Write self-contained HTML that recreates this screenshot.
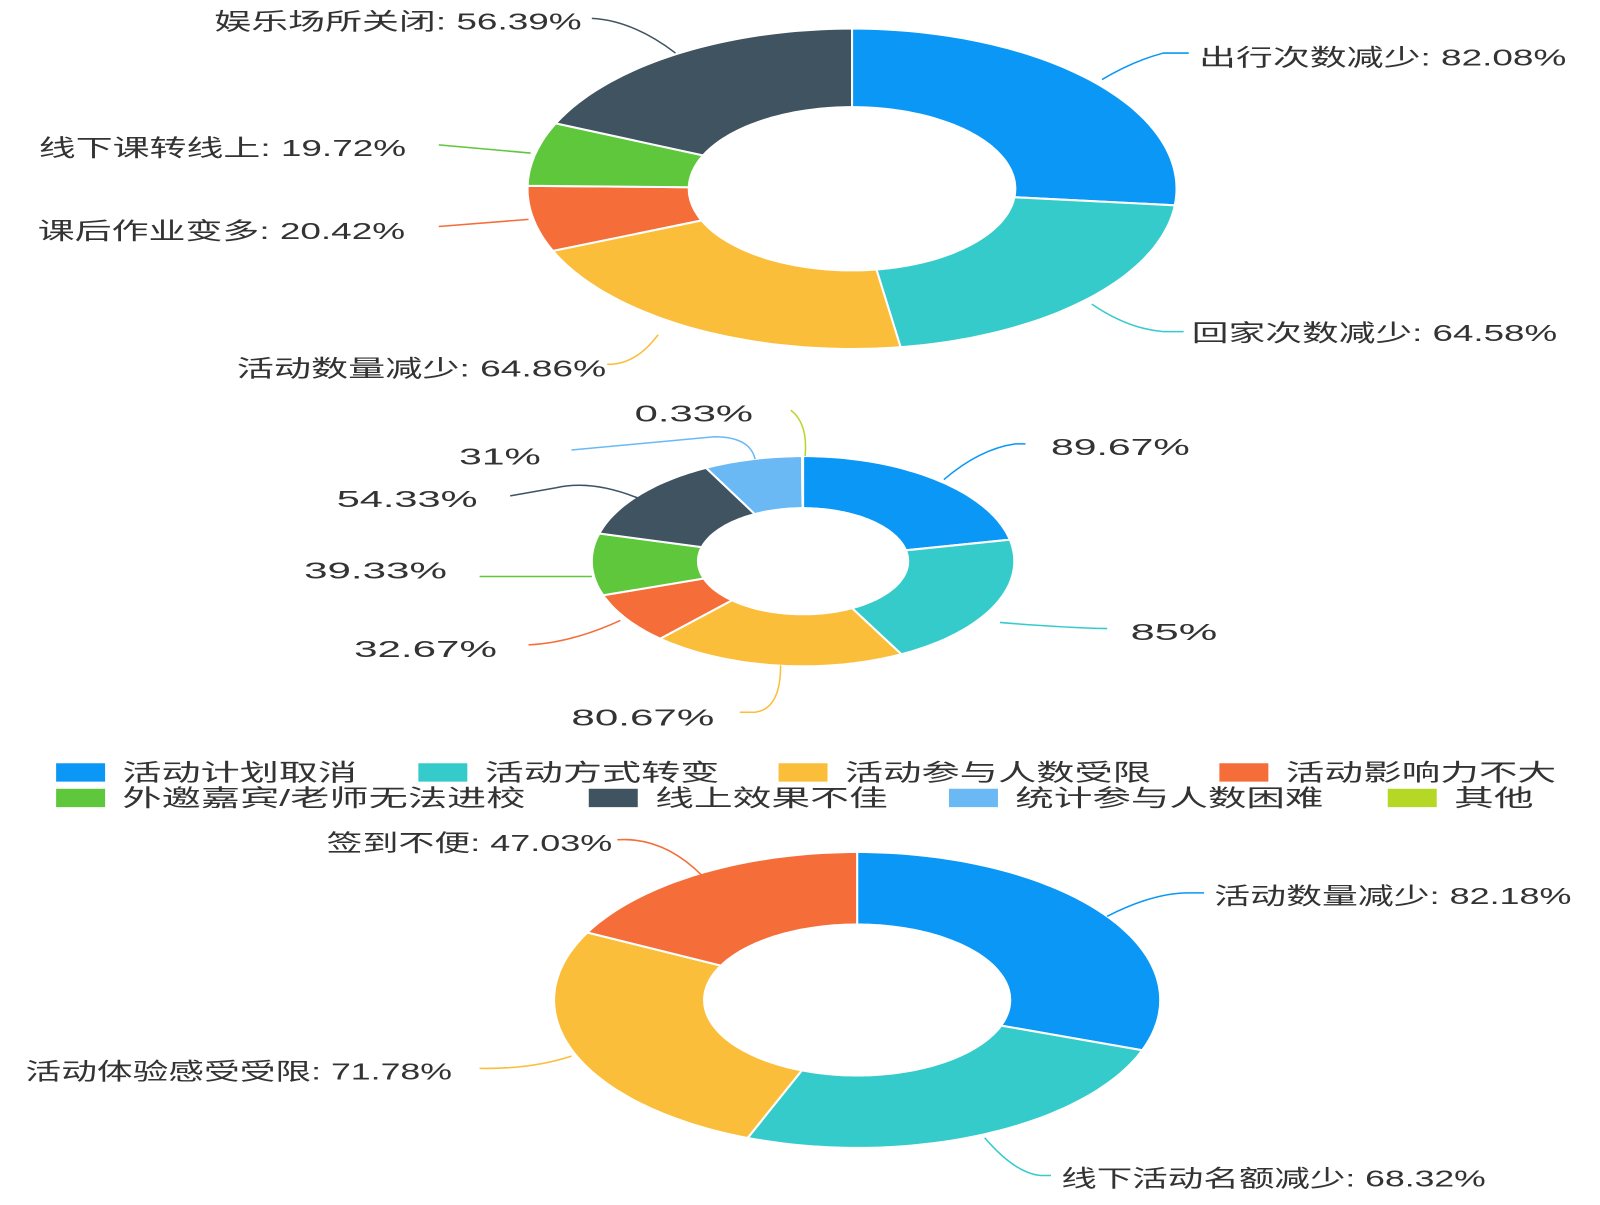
<!DOCTYPE html>
<html><head><meta charset="utf-8"><style>
html,body{margin:0;padding:0;background:#fff;}
svg text{font-family:"Liberation Sans","Noto Sans CJK SC",sans-serif;fill:#333;font-size:23px;}
</style></head><body>
<svg id="s" width="1600" height="1200" viewBox="0 0 1600 1200" xmlns="http://www.w3.org/2000/svg">
<g transform="scale(1.0204)">
<g id="charts"></g>
<g fill="none" stroke-width="1.5">
<path d="M1080,78 Q1110,60 1140,52 L1165,52" stroke="#0a97f5"/>
<path d="M1070,298 Q1105,322 1140,325 L1160,325" stroke="#36cbcb"/>
<path d="M645,328 Q625,355 600,357 L595,357" stroke="#fbbe3a"/>
<path d="M518,215 L430,222" stroke="#f56e3a"/>
<path d="M520,150 L430,142" stroke="#5ec73c"/>
<path d="M662,52 Q620,20 580,18" stroke="#3f5360"/>
<path d="M925,470 Q960,440 995,435 L1005,435" stroke="#0a97f5"/>
<path d="M980,610 Q1040,615 1085,616" stroke="#36cbcb"/>
<path d="M765,652 Q765,695 740,698 L725,698" stroke="#fbbe3a"/>
<path d="M608,608 Q560,630 518,632" stroke="#f56e3a"/>
<path d="M580,565 L470,565" stroke="#5ec73c"/>
<path d="M625,488 Q580,470 545,478 L500,486" stroke="#3f5360"/>
<path d="M740,450 Q735,428 700,428 L560,441" stroke="#6ab9f5"/>
<path d="M789,447 Q792,415 775,402" stroke="#b5d827"/>
<path d="M1085,898 Q1130,875 1165,875 L1180,875" stroke="#0a97f5"/>
<path d="M965,1115 Q995,1150 1020,1152 L1030,1152" stroke="#36cbcb"/>
<path d="M560,1035 Q520,1048 470,1047" stroke="#fbbe3a"/>
<path d="M688,858 Q650,820 605,823" stroke="#f56e3a"/>
</g>
<text x="1175" y="64" textLength="360" lengthAdjust="spacingAndGlyphs">出行次数减少: 82.08%</text>
<text x="1168" y="334" textLength="358" lengthAdjust="spacingAndGlyphs">回家次数减少: 64.58%</text>
<text x="232" y="369" textLength="362" lengthAdjust="spacingAndGlyphs">活动数量减少: 64.86%</text>
<text x="37" y="234" textLength="360" lengthAdjust="spacingAndGlyphs">课后作业变多: 20.42%</text>
<text x="38" y="153" textLength="360" lengthAdjust="spacingAndGlyphs">线下课转线上: 19.72%</text>
<text x="210" y="29" textLength="360" lengthAdjust="spacingAndGlyphs">娱乐场所关闭: 56.39%</text>
<text x="1030" y="446" textLength="136" lengthAdjust="spacingAndGlyphs">89.67%</text>
<text x="1108" y="627" textLength="85" lengthAdjust="spacingAndGlyphs">85%</text>
<text x="560" y="711" textLength="140" lengthAdjust="spacingAndGlyphs">80.67%</text>
<text x="347" y="644" textLength="140" lengthAdjust="spacingAndGlyphs">32.67%</text>
<text x="298" y="567" textLength="140" lengthAdjust="spacingAndGlyphs">39.33%</text>
<text x="330" y="497" textLength="138" lengthAdjust="spacingAndGlyphs">54.33%</text>
<text x="450" y="455" textLength="80" lengthAdjust="spacingAndGlyphs">31%</text>
<text x="622" y="413" textLength="116" lengthAdjust="spacingAndGlyphs">0.33%</text>
<g id="legend"></g>
<text x="320" y="834" textLength="280" lengthAdjust="spacingAndGlyphs">签到不便: 47.03%</text>
<text x="1190" y="886" textLength="350" lengthAdjust="spacingAndGlyphs">活动数量减少: 82.18%</text>
<text x="25" y="1058" textLength="418" lengthAdjust="spacingAndGlyphs">活动体验感受受限: 71.78%</text>
<text x="1040" y="1163" textLength="416" lengthAdjust="spacingAndGlyphs">线下活动名额减少: 68.32%</text>
</g>
</svg>
<script>
var NS="http://www.w3.org/2000/svg";
function donut(cx,cy,rx,ry,irx,iry,data,colors){
  var g=document.getElementById('charts');
  var tot=data.reduce(function(a,b){return a+b},0),a=0;
  data.forEach(function(v,i){
    var a0=a,a1=a+v/tot*2*Math.PI;a=a1;
    var pts=[],n=Math.max(2,Math.ceil((a1-a0)*40));
    for(var k=0;k<=n;k++){var t=a0+(a1-a0)*k/n;pts.push((cx+rx*Math.sin(t)).toFixed(1)+","+(cy-ry*Math.cos(t)).toFixed(1));}
    for(var k=n;k>=0;k--){var t=a0+(a1-a0)*k/n;pts.push((cx+irx*Math.sin(t)).toFixed(1)+","+(cy-iry*Math.cos(t)).toFixed(1));}
    var p=document.createElementNS(NS,'polygon');
    p.setAttribute('points',pts.join(' '));
    p.setAttribute('fill',colors[i]);p.setAttribute('stroke','#fff');p.setAttribute('stroke-width','2');
    g.appendChild(p);
  });
}
var C=['#0a97f5','#36cbcb','#fbbe3a','#f56e3a','#5ec73c','#3f5360','#6ab9f5','#b5d827'];
donut(835,185,318,157,160,80,[82.08,64.58,64.86,20.42,19.72,56.39],C);
donut(787,550,207,103,103,52,[89.67,85,80.67,32.67,39.33,54.33,31,0.33],C);
donut(840,980,297,145,150,74,[82.18,68.32,71.78,47.03],C);
var L=[[55,757,'活动计划取消',230],[410,757,'活动方式转变',230],[763,757,'活动参与人数受限',300],[1195,757,'活动影响力不大',265],
[55,782,'外邀嘉宾/老师无法进校',395],[577,782,'线上效果不佳',228],[930,782,'统计参与人数困难',302],[1360,782,'其他',78]];
var lg=document.getElementById('legend');
L.forEach(function(l,i){
  var r=document.createElementNS(NS,'rect');
  r.setAttribute('x',l[0]);r.setAttribute('y',l[1]-9);r.setAttribute('width',48);r.setAttribute('height',18);r.setAttribute('fill',C[i]);
  lg.appendChild(r);
  var t=document.createElementNS(NS,'text');
  t.setAttribute('x',l[0]+65);t.setAttribute('y',l[1]+8);t.setAttribute('textLength',l[3]);t.setAttribute('lengthAdjust','spacingAndGlyphs');
  t.textContent=l[2];lg.appendChild(t);
});
</script>
</body></html>
